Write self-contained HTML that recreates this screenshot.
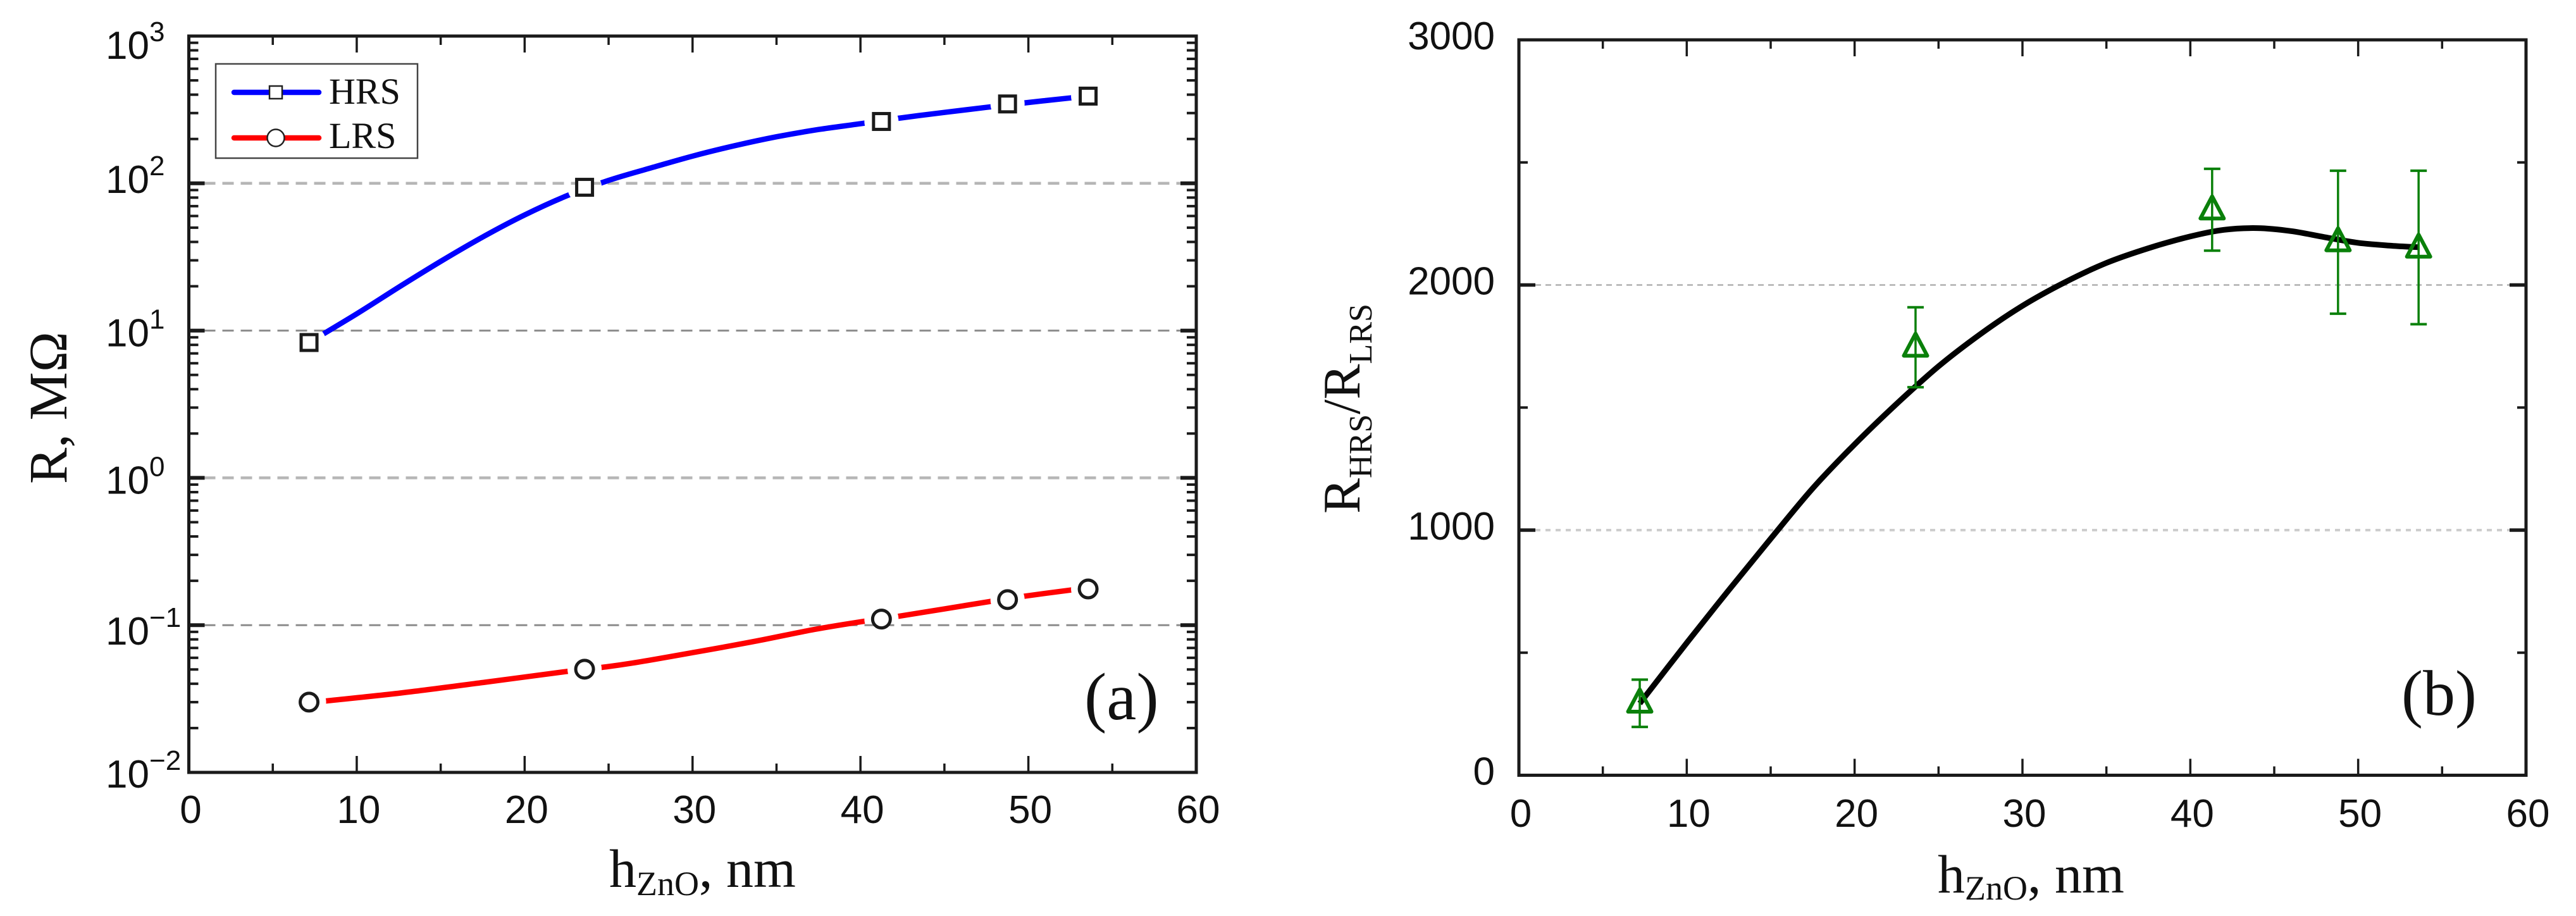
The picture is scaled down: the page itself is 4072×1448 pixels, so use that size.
<!DOCTYPE html>
<html lang="en">
<head>
<meta charset="utf-8">
<title>Resistance and resistance ratio versus ZnO thickness</title>
<style>
html,body{margin:0;padding:0;background:#fff;}
svg{display:block;}
.serif{font-family:"Liberation Serif",serif;fill:#111;}
.sans{font-family:"Liberation Sans",sans-serif;fill:#111;}
</style>
</head>
<body>
<svg id="chart" xmlns="http://www.w3.org/2000/svg" width="4072" height="1448" viewBox="0 0 4072 1448">
  <rect width="4072" height="1448" fill="#fff"/>
  <defs>
    <mask id="gapMaskHrs" maskUnits="userSpaceOnUse" x="0" y="0" width="4072" height="1448"></mask>
    <mask id="gapMaskLrs" maskUnits="userSpaceOnUse" x="0" y="0" width="4072" height="1448"></mask>
  </defs>
  <g id="panelA"></g>
  <g id="panelB"></g>

  <text class="serif" x="963" y="1402" font-size="86">h<tspan font-size="54" dy="13">ZnO</tspan><tspan dy="-13">, nm</tspan></text>
  <text class="serif" transform="translate(105,765) rotate(-90)" font-size="86">R, MΩ</text>
  <text class="serif" x="1714" y="1137" font-size="106">(a)</text>

  <g>
    <rect x="341" y="101" width="319" height="149" fill="#fff" stroke="#444" stroke-width="2.5"/>
    <g>
      <line x1="370" y1="146" x2="504" y2="146" stroke="#0000ff" stroke-width="8.5" stroke-linecap="round"/>
      <rect x="426" y="136" width="20" height="20" fill="#fff" stroke="#222" stroke-width="2.5"/>
      <text class="serif" x="520" y="164" font-size="58">HRS</text>
    </g>
    <g>
      <line x1="370" y1="218" x2="504" y2="218" stroke="#ff0000" stroke-width="8.5" stroke-linecap="round"/>
      <circle cx="436" cy="218" r="13.5" fill="#fff" stroke="#222" stroke-width="2.5"/>
      <text class="serif" x="520" y="234" font-size="58">LRS</text>
    </g>
  </g>

  <text class="serif" x="3063" y="1411" font-size="86">h<tspan font-size="54" dy="11">ZnO</tspan><tspan dy="-11">, nm</tspan></text>
  <text class="serif" transform="translate(2149,812) rotate(-90)" font-size="84">R<tspan font-size="52" dy="19">HRS</tspan><tspan dy="-19">/R</tspan><tspan font-size="52" dy="19">LRS</tspan></text>
  <text class="serif" x="3796" y="1130" font-size="102">(b)</text>
</svg>

<script>
// ---- chart data ----
const xTickValues = [0, 10, 20, 30, 40, 50, 60];
const xMinorTickValues = [5, 15, 25, 35, 45, 55];

// Panel (a): resistance in MOhm
const decadeExponents = [3, 2, 1, 0, -1, -2];
const decadeExponentLabels = ['3', '2', '1', '0', '\u22121', '\u22122'];
const minorMultipliers = [2, 3, 4, 5, 6, 7, 8, 9];
const gridDecadeExponents = [2, 1, 0, -1];
const thicknessNm = [7.16, 23.57, 41.25, 48.76, 53.56];
const hrsValues = [8.3, 94, 263, 346, 391];
const lrsValues = [0.030, 0.0502, 0.11, 0.149, 0.176];
const hrsCurveX = [7.16, 10, 12.5, 15, 17.5, 20, 22.5, 25, 27.5, 30, 32.5, 35, 37.5, 40, 42.5, 45, 47.5, 50, 52.5, 53.56];
const hrsCurveY = [8.3, 13, 19.7, 29.5, 43.2, 61, 82.2, 104.7, 127, 153, 180, 207, 232, 254, 279, 303, 328, 354, 380, 391];
const lrsCurveX = [7.16, 8.1, 12.8, 17.6, 22.4, 24.57, 26.44, 30.05, 33.65, 37.26, 40.38, 42.3, 47.6, 49.74, 52.5, 53.56];
const lrsCurveY = [0.0295, 0.0305, 0.0348, 0.0409, 0.0483, 0.0516, 0.0553, 0.0652, 0.0774, 0.0935, 0.107, 0.115, 0.144, 0.157, 0.173, 0.178];

// Panel (b): resistance ratio
const ratioTickValues = [0, 1000, 2000, 3000];
const ratioMinorTickValues = [500, 1500, 2500];
const ratioGridValues = [1000, 2000];
const ratioX = [7.2, 23.63, 41.3, 48.8, 53.6];
const ratioValues = [293, 1745, 2305, 2175, 2149];
const ratioErrorHigh = [390, 1909, 2474, 2466, 2466];
const ratioErrorLow = [197, 1583, 2140, 1883, 1840];
const ratioCurveX = [7.2, 10, 12.5, 15, 17.5, 20, 22.5, 25, 27.5, 30, 32.5, 35, 37.5, 40, 42, 44, 46, 48, 50, 52, 53.6];
const ratioCurveY = [293, 540, 755, 965, 1170, 1350, 1515, 1668, 1800, 1915, 2010, 2090, 2150, 2198, 2225, 2232, 2220, 2195, 2172, 2160, 2154];

// ---- axis functions ----
const A = {left: 298.5, right: 1891, top: 57, bottom: 1221};
const B = {left: 2401, right: 3993, top: 63, bottom: 1225.5};
function xA(v) { return A.left + v / 60 * (A.right - A.left); }
function yALog(e) { return A.top + (3 - e) / 5 * (A.bottom - A.top); }
function yA(v) { return yALog(Math.log10(v)); }
function xB(v) { return B.left + v / 60 * (B.right - B.left); }
function yB(v) { return B.bottom - v / 3000 * (B.bottom - B.top); }

const NS = 'http://www.w3.org/2000/svg';
function mk(parent, tag, attrs, text) {
  const el = document.createElementNS(NS, tag);
  for (const k in attrs) el.setAttribute(k, attrs[k]);
  if (text !== undefined) el.textContent = text;
  parent.appendChild(el);
  return el;
}
function smoothPath(pts) {
  let d = 'M' + pts[0][0].toFixed(1) + ' ' + pts[0][1].toFixed(1);
  for (let i = 0; i < pts.length - 1; i++) {
    const p0 = pts[Math.max(i - 1, 0)], p1 = pts[i], p2 = pts[i + 1], p3 = pts[Math.min(i + 2, pts.length - 1)];
    const c1x = p1[0] + (p2[0] - p0[0]) / 6, c1y = p1[1] + (p2[1] - p0[1]) / 6;
    const c2x = p2[0] - (p3[0] - p1[0]) / 6, c2y = p2[1] - (p3[1] - p1[1]) / 6;
    d += 'C' + c1x.toFixed(1) + ' ' + c1y.toFixed(1) + ' ' + c2x.toFixed(1) + ' ' + c2y.toFixed(1) + ' ' + p2[0].toFixed(1) + ' ' + p2[1].toFixed(1);
  }
  return d;
}

const panelA = document.getElementById('panelA');
const panelB = document.getElementById('panelB');
const decadeLabelNudge = {'3': 36, '2': 15, '1': 25, '0': 25, '-1': 31, '-2': 24};
const INK = '#1a1a1a';

// ---- panel (a) grid ----
gridDecadeExponents.forEach(function (e) {
  const light = (e % 2 === 0);
  const g = mk(panelA, 'line', {x1: A.left + 24, x2: A.right - 24, y1: yALog(e), y2: yALog(e), stroke: light ? '#b6b6b6' : '#8c8c8c', 'stroke-width': light ? 4.5 : 3, 'stroke-dasharray': '18 11'});
  
  
});

// ---- panel (a) frame ----
const frameA = mk(panelA, 'rect', {x: A.left, y: A.top, width: A.right - A.left, height: A.bottom - A.top, fill: 'none', stroke: INK, 'stroke-width': 5});



// ---- panel (a) x ticks ----
xTickValues.forEach(function (v) {
  if (v > 0 && v < 60) {
    [[A.bottom, A.bottom - 26], [A.top, A.top + 26]].forEach(function (t) {
      const tick = mk(panelA, 'line', {x1: xA(v), x2: xA(v), y1: t[0], y2: t[1], stroke: INK, 'stroke-width': 3.5});
      
      
    });
  }
  const lab = mk(panelA, 'text', {x: xA(v) + 3, y: 1301, 'font-size': 62, 'text-anchor': 'middle', class: 'sans'}, String(v));
  
  
});
xMinorTickValues.forEach(function (v) {
  [[A.bottom, A.bottom - 14], [A.top, A.top + 14]].forEach(function (t) {
    const tick = mk(panelA, 'line', {x1: xA(v), x2: xA(v), y1: t[0], y2: t[1], stroke: INK, 'stroke-width': 3.5});
    
    
  });
});

// ---- panel (a) y ticks ----
decadeExponents.forEach(function (e, i) {
  const y = yALog(e);
  if (e < 3 && e > -2) {
    [[A.left, A.left + 25], [A.right, A.right - 25]].forEach(function (t) {
      const tick = mk(panelA, 'line', {x1: t[0], x2: t[1], y1: y, y2: y, stroke: INK, 'stroke-width': 6});
      
      
    });
  }
  if (e > -2) {
    minorMultipliers.forEach(function (m) {
      const my = yALog(e - 1 + Math.log10(m));
      [[A.left, A.left + 15], [A.right, A.right - 15]].forEach(function (t) {
        const tick = mk(panelA, 'line', {x1: t[0], x2: t[1], y1: my, y2: my, stroke: INK, 'stroke-width': 4});
        
        
      });
    });
  }
  const base = y + decadeLabelNudge[String(e)];
  const lab = mk(panelA, 'text', {x: 167, y: base, 'font-size': 62, class: 'sans'}, '10');
  
  
  const sup = mk(panelA, 'text', {x: 236, y: base - 28, 'font-size': 44, class: 'sans'}, decadeExponentLabels[i]);
  
  
});

// ---- panel (a) curves with gaps around the markers ----
function buildMask(id, ys) {
  const m = document.getElementById(id);
  mk(m, 'rect', {x: 0, y: 0, width: 4072, height: 1448, fill: '#fff'});
  thicknessNm.forEach(function (v, i) {
    mk(m, 'circle', {cx: xA(v), cy: yA(ys[i]), r: 27, fill: '#000'});
  });
}
buildMask('gapMaskHrs', hrsValues);
buildMask('gapMaskLrs', lrsValues);

const hrsCurve = mk(panelA, 'path', {d: smoothPath(hrsCurveX.map(function (v, i) { return [xA(v), yA(hrsCurveY[i])]; })), fill: 'none', stroke: '#0000ff', 'stroke-width': 8.5, mask: 'url(#gapMaskHrs)'});


const lrsCurve = mk(panelA, 'path', {d: smoothPath(lrsCurveX.map(function (v, i) { return [xA(v), yA(lrsCurveY[i])]; })), fill: 'none', stroke: '#ff0000', 'stroke-width': 8.5, mask: 'url(#gapMaskLrs)'});



thicknessNm.forEach(function (v, i) {
  const sq = mk(panelA, 'rect', {x: xA(v) - 12.5, y: yA(hrsValues[i]) - 12.5, width: 25, height: 25, fill: '#fff', stroke: INK, 'stroke-width': 5});
  
  
  const ci = mk(panelA, 'circle', {cx: xA(v), cy: yA(lrsValues[i]), r: 14, fill: '#fff', stroke: INK, 'stroke-width': 5});
  
  
});

// ---- panel (b) grid ----
ratioGridValues.forEach(function (v) {
  const light = (v === 1000);
  const g = mk(panelB, 'line', {x1: B.left + 26, x2: B.right - 26, y1: yB(v), y2: yB(v), stroke: light ? '#cdcdcd' : '#b0b0b0', 'stroke-width': light ? 4 : 2.5, 'stroke-dasharray': light ? '8 8' : '9 7'});
  
  
});

// ---- panel (b) frame ----
const frameB = mk(panelB, 'rect', {x: B.left, y: B.top, width: B.right - B.left, height: B.bottom - B.top, fill: 'none', stroke: INK, 'stroke-width': 5});



// ---- panel (b) ticks ----
xTickValues.forEach(function (v) {
  if (v > 0 && v < 60) {
    [[B.bottom, B.bottom - 26], [B.top, B.top + 26]].forEach(function (t) {
      const tick = mk(panelB, 'line', {x1: xB(v), x2: xB(v), y1: t[0], y2: t[1], stroke: INK, 'stroke-width': 3.5});
      
      
    });
  }
  const lab = mk(panelB, 'text', {x: xB(v) + 3, y: 1307, 'font-size': 62, 'text-anchor': 'middle', class: 'sans'}, String(v));
  
  
});
xMinorTickValues.forEach(function (v) {
  [[B.bottom, B.bottom - 14], [B.top, B.top + 14]].forEach(function (t) {
    const tick = mk(panelB, 'line', {x1: xB(v), x2: xB(v), y1: t[0], y2: t[1], stroke: INK, 'stroke-width': 3.5});
    
    
  });
});
ratioTickValues.forEach(function (v) {
  if (v > 0 && v < 3000) {
    [[B.left, B.left + 26], [B.right, B.right - 26]].forEach(function (t) {
      const tick = mk(panelB, 'line', {x1: t[0], x2: t[1], y1: yB(v), y2: yB(v), stroke: INK, 'stroke-width': 5.5});
      
      
    });
  }
  const lab = mk(panelB, 'text', {x: 2363, y: yB(v) + 15, 'font-size': 62, 'text-anchor': 'end', class: 'sans'}, String(v));
  
  
});
ratioMinorTickValues.forEach(function (v) {
  [[B.left, B.left + 14], [B.right, B.right - 14]].forEach(function (t) {
    const tick = mk(panelB, 'line', {x1: t[0], x2: t[1], y1: yB(v), y2: yB(v), stroke: INK, 'stroke-width': 4});
    
    
  });
});

// ---- panel (b) curve, error bars, triangles ----
const ratioCurve = mk(panelB, 'path', {d: smoothPath(ratioCurveX.map(function (v, i) { return [xB(v), yB(ratioCurveY[i])]; })), fill: 'none', stroke: '#000', 'stroke-width': 9});



ratioX.forEach(function (v, i) {
  const x = xB(v), yHi = yB(ratioErrorHigh[i]), yLo = yB(ratioErrorLow[i]), y = yB(ratioValues[i]);
  const stem = mk(panelB, 'line', {x1: x, x2: x, y1: yHi, y2: yLo, stroke: '#0a800a', 'stroke-width': 3.5});
  
  
  [yHi, yLo].forEach(function (cy) {
    const cap = mk(panelB, 'line', {x1: x - 13, x2: x + 13, y1: cy, y2: cy, stroke: '#0a800a', 'stroke-width': 4});
    
    
  });
  const tri = mk(panelB, 'polygon', {points: [[x, y - 22], [x + 18.5, y + 13], [x - 18.5, y + 13]].map(function (p) { return p.join(','); }).join(' '), fill: 'none', stroke: '#0a800a', 'stroke-width': 6, 'stroke-linejoin': 'round'});
  
  
});
</script>
</body>
</html>
